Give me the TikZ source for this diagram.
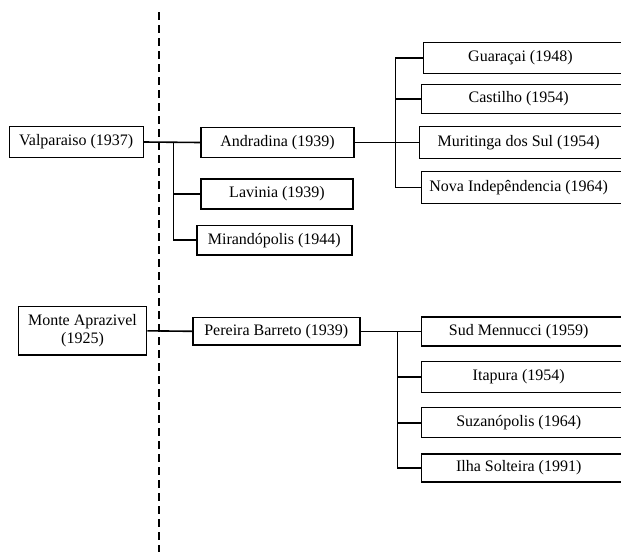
\documentclass[tikz,border=0pt]{standalone}
\usepackage{fontspec}
\setmainfont{Liberation Serif}
% label of a box whose right side runs off the page
\newcommand{\cutlabel}[1]{\makebox[194pt]{#1}\hspace*{30pt}}
\begin{document}
\begin{tikzpicture}[x=1pt,y=-1pt,
  box/.style={draw, line width=1.4pt, inner sep=0pt, align=center,
    font=\fontsize{16}{18}\selectfont},
  cutbox/.style={box, anchor=west, minimum height=#1},
  link/.style={line width=1.6pt},
  divider/.style={line width=1.4pt, dash pattern=on 8pt off 5pt}]
\clip (0,0) rectangle (621,552);
\fill[white] (0,0) rectangle (621,552);

% dividing line
\coordinate (dtop) at (159,12);
\coordinate (dbot) at (159,552);
\draw[divider] (dtop) -- (dbot);

% first tree
\node[box, minimum width=134pt, minimum height=30.5pt] (valp) at (76.2,142) {Valparaiso (1937)};
\node[box, minimum width=153pt, minimum height=29.5pt] (andr) at (277.5,142.5) {Andradina (1939)};
\node[box, minimum width=152pt, minimum height=30pt] (lavi) at (277,194) {Lavinia (1939)};
\node[box, minimum width=155pt, minimum height=29.5pt] (mira) at (274.3,240.2) {Mirandópolis (1944)};

\node[cutbox=31pt] (guar) at (422.7,58) {\cutlabel{Guaraçai (1948)}};
\node[cutbox=29pt] (cast) at (421,98.8) {\cutlabel{Castilho (1954)}};
\node[cutbox=32pt] (muri) at (419,142.5) {\hspace*{2pt}\cutlabel{Muritinga dos Sul (1954)}};
\node[cutbox=31.5pt] (nova) at (421,187.5) {\cutlabel{Nova Indepêndencia (1964)}};

\coordinate (j1) at (173.3,142.3);
\draw[link] (valp.east) -- (andr.west);
\draw[link] (j1) |- (lavi.west);
\draw[link] (j1) |- (mira.west);

\coordinate (j2) at (395.3,142.5);
\draw[link] (andr.east) -- (muri.west);
\draw[link] (guar.west) -| (j2) |- (nova.west);
\draw[link] (j2) |- (cast.west);

% second tree
\node[box, minimum width=128.5pt, minimum height=48.3pt] (mont) at (82.5,330.8) {Monte Aprazivel\\(1925)};
\node[box, minimum width=167pt, minimum height=27.5pt] (pere) at (276.3,331.3) {Pereira Barreto (1939)};

\node[cutbox=29pt] (sudm) at (421,331.3) {\cutlabel{Sud Mennucci (1959)}};
\node[cutbox=30.5pt] (itap) at (421,377) {\cutlabel{Itapura (1954)}};
\node[cutbox=30pt] (suza) at (421,422.7) {\cutlabel{Suzanópolis (1964)}};
\node[cutbox=28pt] (ilha) at (421,468) {\cutlabel{Ilha Solteira (1991)}};

\draw[link] (mont.east) -- (pere.west);
\coordinate (j3) at (397.3,331.3);
\draw[link] (pere.east) -- (sudm.west);
\draw[link] (j3) |- (ilha.west);
\draw[link] (j3) |- (itap.west);
\draw[link] (j3) |- (suza.west);
\end{tikzpicture}
\end{document}
